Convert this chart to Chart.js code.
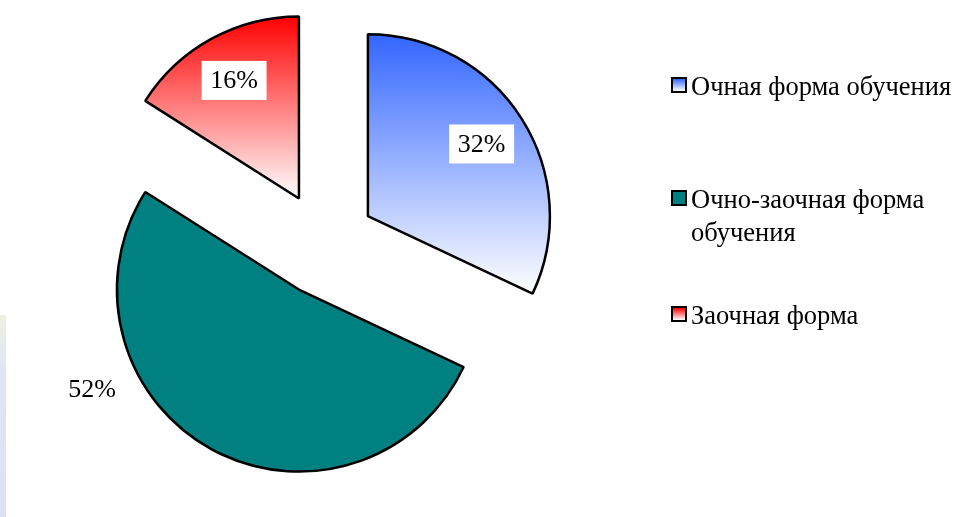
<!DOCTYPE html>
<html>
<head>
<meta charset="utf-8">
<script src="https://cdn.jsdelivr.net/npm/chart.js@4/dist/chart.umd.min.js"></script>
<style>
  html, body { margin: 0; padding: 0; background: #fff; }
  #wrap { position: relative; width: 955px; height: 517px; overflow: hidden; }
  #myChart { position: absolute; left: 0; top: 0; }
  #edge { position: absolute; left: 0; top: 315px; width: 6px; height: 202px;
          background: linear-gradient(to bottom, #eef0e0, #dfe4f6 30%, #dbe1f5); }
  .leg { position: absolute; left: 671px; font: 26.5px "Liberation Serif", "Times New Roman", serif;
         color: #000; line-height: 33px; white-space: nowrap; }
  .leg i { position: absolute; left: 0; top: 7px; width: 12px; height: 12px; border: 2px solid #000; }
  .leg span { display: block; margin-left: 20px; }
</style>
</head>
<body>
<div id="wrap">
  <div id="edge"></div>
  <canvas id="myChart" width="955" height="517"></canvas>
  <div id="legend"></div>
</div>
<script>
var labels = ['Очная форма обучения', ['Очно-заочная форма', 'обучения'], 'Заочная форма'];
var shares = [32, 52, 16];

// top colour -> bottom colour of each slice's vertical gradient
var fills = [['#3366ff', '#ffffff'], ['#008080', '#008080'], ['#ff0000', '#ffffff']];
// where each value label sits: fraction through the slice, radius factor, white box or not
var labelPlace = [{t: 0.5, r: 0.74, box: true}, {t: 0.69, r: 1.26, box: false}, {t: 0.5, r: 0.74, box: true}];
var legendTops = [70, 183, 299];
var explode = 52;   // how far each slice is pulled out of the pie

// pull every slice out along its middle angle (chart.js' own offset also grows the radius)
var explodePlugin = {
    id: 'explode',
    afterDatasetsUpdate: function (chart) {
        chart.getDatasetMeta(0).data.forEach(function (el) {
            var mid = (el.startAngle + el.endAngle) / 2;
            el.x += Math.cos(mid) * explode;
            el.y += Math.sin(mid) * explode;
        });
    }
};

var gradientPlugin = {
    id: 'sliceGradient',
    beforeDatasetsDraw: function (chart) {
        var ctx = chart.ctx;
        chart.getDatasetMeta(0).data.forEach(function (el, i) {
            var r = el.outerRadius;
            var ys = [el.y, el.y + Math.sin(el.startAngle) * r, el.y + Math.sin(el.endAngle) * r];
            var top = Math.min.apply(null, ys), bottom = Math.max.apply(null, ys);
            [-Math.PI / 2, Math.PI / 2, 3 * Math.PI / 2].forEach(function (ang) {
                if (ang >= el.startAngle && ang <= el.endAngle) {
                    top = Math.min(top, el.y + Math.sin(ang) * r);
                    bottom = Math.max(bottom, el.y + Math.sin(ang) * r);
                }
            });
            var g = ctx.createLinearGradient(0, top, 0, bottom);
            g.addColorStop(0, fills[i][0]);
            g.addColorStop(1, fills[i][1]);
            el.options = Object.assign({}, el.options, { backgroundColor: g });
        });
    }
};

var labelPlugin = {
    id: 'sliceLabels',
    afterDatasetsDraw: function (chart) {
        var ctx = chart.ctx;
        ctx.save();
        ctx.font = '26px "Liberation Serif", "Times New Roman", serif';
        ctx.textAlign = 'center';
        ctx.textBaseline = 'middle';
        chart.getDatasetMeta(0).data.forEach(function (el, i) {
            var p = labelPlace[i];
            var ang = el.startAngle + (el.endAngle - el.startAngle) * p.t;
            var x = el.x + Math.cos(ang) * el.outerRadius * p.r;
            var y = el.y + Math.sin(ang) * el.outerRadius * p.r;
            if (p.box) {
                ctx.fillStyle = '#ffffff';
                ctx.fillRect(x - 32.5, y - 19.5, 65, 39);
            }
            ctx.fillStyle = '#000000';
            ctx.fillText(shares[i] + '%', x, y + 1);
        });
        ctx.restore();
    }
};

function createChart() {
    var ctx = document.getElementById('myChart').getContext('2d');
    return new Chart(ctx, {
        type: 'pie',
        data: {
            labels: labels,
            datasets: [{
                data: shares,
                backgroundColor: fills.map(function (f) { return f[0]; }),
                borderColor: '#000000',
                borderWidth: 2.5,
                hoverOffset: 0,
                radius: 182
            }]
        },
        options: {
            responsive: false,
            animation: false,
            events: [],
            layout: { padding: { left: 0, right: 307, top: 0, bottom: 29 } },
            plugins: { legend: { display: false }, tooltip: { enabled: false } }
        },
        plugins: [explodePlugin, gradientPlugin, labelPlugin]
    });
}

function createLegend() {
    var box = document.getElementById('legend');
    labels.forEach(function (lab, i) {
        var item = document.createElement('div');
        item.className = 'leg';
        item.style.top = legendTops[i] + 'px';
        var mark = document.createElement('i');
        mark.style.background = 'linear-gradient(to bottom, ' + fills[i][0] + ', ' + fills[i][1] + ')';
        item.appendChild(mark);
        var text = document.createElement('span');
        text.innerHTML = [].concat(lab).join('<br>');
        item.appendChild(text);
        box.appendChild(item);
    });
}

createChart();
createLegend();
</script>
</body>
</html>
